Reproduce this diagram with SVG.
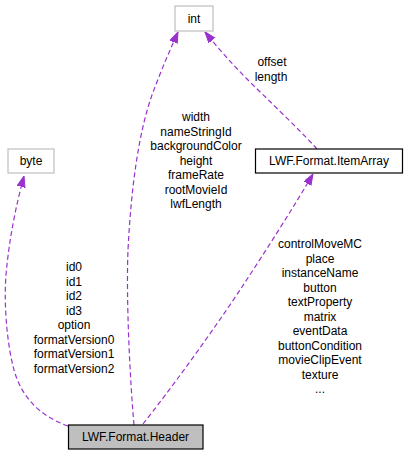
<svg xmlns="http://www.w3.org/2000/svg" width="408" height="456" viewBox="0 0 408 456">
<style>
text{font-family:"Liberation Sans",Arial,Helvetica,sans-serif;font-size:12px;fill:#000;text-anchor:middle}
.edge{fill:none;stroke:#9a32cd;stroke-width:1.2;stroke-dasharray:5,3}
.ext{fill:#fff;stroke:#bfbfbf;stroke-width:1.2}
.cls{fill:#fff;stroke:#000;stroke-width:1.2}
.cur{fill:#bfbfbf;stroke:#000;stroke-width:1.2}
</style>
<defs>
<marker id="ah" markerUnits="userSpaceOnUse" markerWidth="11" markerHeight="9" refX="11" refY="4" orient="auto">
<path d="M0,0 L11,4 L0,8 z" fill="#9a32cd" stroke="#9a32cd"/>
</marker>
</defs>
<rect width="408" height="456" fill="#fff"/>
<g id="edges">
<path class="edge" d="M68,426 C40,416 22,398 14,370 C6,340 4,300 6,275 C9,240 16,205 24,176" marker-end="url(#ah)"/>
<path class="edge" d="M134,425 C130,380 126,300 128,250 C131,190 138,135 152,95 C162,68 170,50 178,32" marker-end="url(#ah)"/>
<path class="edge" d="M143,424 C170,390 210,335 240,290 C265,252 295,205 313,174" marker-end="url(#ah)"/>
<path class="edge" d="M317,149 C300,130 265,97 248,80 C232,64 218,48 205,32" marker-end="url(#ah)"/>
<text x="272" y="66">offset</text>
<text x="271" y="80.5">length</text>
<text x="196" y="121">width</text>
<text x="196" y="135.5">nameStringId</text>
<text x="196" y="150">backgroundColor</text>
<text x="196" y="164.5">height</text>
<text x="196" y="179">frameRate</text>
<text x="196" y="193.5">rootMovieId</text>
<text x="196" y="208">lwfLength</text>
<text x="74" y="271">id0</text>
<text x="74" y="285.5">id1</text>
<text x="74" y="300">id2</text>
<text x="74" y="314.5">id3</text>
<text x="74" y="329">option</text>
<text x="74" y="343.5">formatVersion0</text>
<text x="74" y="358">formatVersion1</text>
<text x="74" y="372.5">formatVersion2</text>
<text x="320" y="248">controlMoveMC</text>
<text x="320" y="262.5">place</text>
<text x="320" y="277">instanceName</text>
<text x="320" y="291.5">button</text>
<text x="320" y="306">textProperty</text>
<text x="320" y="320.5">matrix</text>
<text x="320" y="335">eventData</text>
<text x="320" y="349.5">buttonCondition</text>
<text x="320" y="364">movieClipEvent</text>
<text x="320" y="378.5">texture</text>
<text x="320" y="393">...</text>
</g>
<g id="node-int">
<rect class="ext" x="175" y="6" width="38" height="25"/>
<text x="194" y="22.5">int</text>
</g>
<g id="node-byte">
<rect class="ext" x="8" y="149" width="46" height="24"/>
<text x="31" y="165">byte</text>
</g>
<g id="node-itemarray">
<rect class="cls" x="255.5" y="149" width="147" height="24"/>
<text x="329" y="165">LWF.Format.ItemArray</text>
</g>
<g id="node-header">
<rect class="cur" x="68.5" y="425" width="134.5" height="24"/>
<text x="135.5" y="441">LWF.Format.Header</text>
</g>
</svg>
